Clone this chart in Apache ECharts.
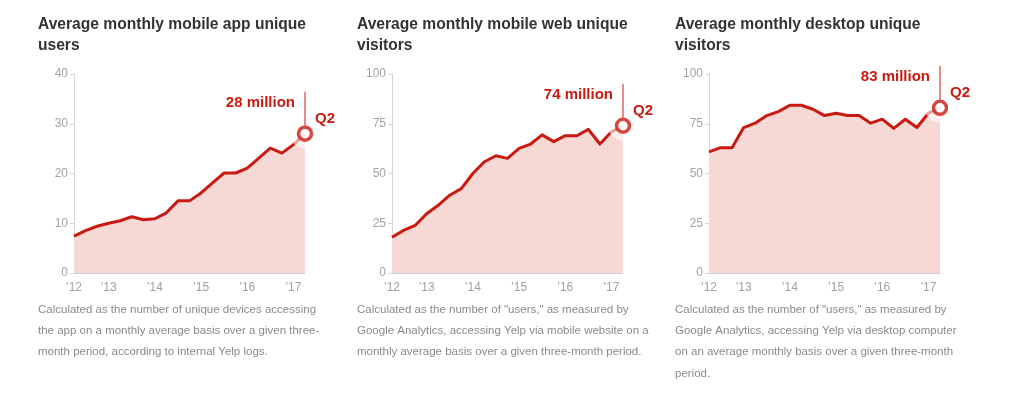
<!DOCTYPE html>
<html><head><meta charset="utf-8">
<script src="https://cdn.jsdelivr.net/npm/echarts@6/dist/echarts.min.js"></script>
<style>html,body{margin:0;padding:0;background:#fff}#c{width:1024px;height:394px}</style>
</head><body><div id="c"></div>
<script>
const categories = ['2012 Q2','2012 Q3','2012 Q4','2013 Q1','2013 Q2','2013 Q3','2013 Q4','2014 Q1','2014 Q2','2014 Q3','2014 Q4','2015 Q1','2015 Q2','2015 Q3','2015 Q4','2016 Q1','2016 Q2','2016 Q3','2016 Q4','2017 Q1','2017 Q2'];
const tickCategories = ['2012 Q2','2013 Q1','2014 Q1','2015 Q1','2016 Q1','2017 Q1'];
const tickLabels = ['\u201912','\u201913','\u201914','\u201915','\u201916','\u201917'];
const appUsers = [7.4, 8.5, 9.4, 10.0, 10.5, 11.3, 10.7, 10.9, 12.1, 14.5, 14.5, 16.1, 18.1, 20.1, 20.1, 21.1, 23.1, 25.1, 24.1, 25.8, 28];
const webVisitors = [18.0, 21.4, 23.9, 29.8, 34.0, 39.1, 42.4, 50.0, 55.9, 58.9, 57.6, 62.6, 64.8, 69.4, 66.0, 69.0, 69.0, 72.2, 64.8, 71.0, 74];
const desktopVisitors = [60.9, 63.0, 63.0, 73.1, 75.3, 79.1, 81.1, 84.3, 84.3, 82.3, 79.1, 80.3, 79.1, 79.1, 75.3, 77.3, 72.7, 77.3, 73.1, 80.3, 83];
const yMax = [40, 100, 100];
const yInterval = [10, 25, 25];
const titles = ['Average monthly mobile app unique\nusers', 'Average monthly mobile web unique\nvisitors', 'Average monthly desktop unique\nvisitors'];
const notes = [
  'Calculated as the number of unique devices accessing\nthe app on a monthly average basis over a given three-\nmonth period, according to internal Yelp logs.',
  'Calculated as the number of "users," as measured by\nGoogle Analytics, accessing Yelp via mobile website on a\nmonthly average basis over a given three-month period.',
  'Calculated as the number of "users," as measured by\nGoogle Analytics, accessing Yelp via desktop computer\non an average monthly basis over a given three-month\nperiod.'
];
const annotations = ['28 million', '74 million', '83 million'];
const quarterLabel = 'Q2';
const seriesData = [appUsers, webVisitors, desktopVisitors];

const RED = '#c91a12';
const FILL = '#f6d8d4';
const gridLefts = [74, 392, 709];
const textLefts = [38, 357, 675];
const FONT = 'Liberation Sans, Arial, sans-serif';

const chart = echarts.init(document.getElementById('c'));
const grids = [], xAxes = [], yAxes = [], series = [], graphics = [];
for (let i = 0; i < 3; i++) {
  grids.push({left: gridLefts[i], top: 74, width: 231, height: 199, containLabel: false});
  xAxes.push({
    type: 'category', gridIndex: i, data: categories, boundaryGap: false,
    axisLine: {lineStyle: {color: '#cfcfcf', width: 1}},
    axisTick: {show: false},
    axisLabel: {
      color: '#a0a0a0', fontSize: 12, fontFamily: FONT, margin: 9,
      interval: (idx, val) => tickCategories.indexOf(val) >= 0,
      formatter: (val) => { const k = tickCategories.indexOf(val); return k >= 0 ? tickLabels[k] : ''; }
    },
    splitLine: {show: false}
  });
  yAxes.push({
    type: 'value', gridIndex: i, min: 0, max: yMax[i], interval: yInterval[i],
    axisLine: {show: true, lineStyle: {color: '#d6d6d6', width: 1}},
    axisTick: {show: true, length: 4, lineStyle: {color: '#d6d6d6'}},
    axisLabel: {color: '#a3a3a3', fontSize: 12, fontFamily: FONT, margin: 6},
    splitLine: {show: false}
  });
  series.push({
    type: 'line', xAxisIndex: i, yAxisIndex: i, data: seriesData[i],
    symbol: 'none', clip: false,
    lineStyle: {color: RED, width: 3, join: 'round'},
    areaStyle: {color: FILL, opacity: 1},
    z: 2
  });
  const last = seriesData[i].length - 1;
  series.push({
    type: 'scatter', xAxisIndex: i, yAxisIndex: i,
    data: [[last, seriesData[i][last]]],
    symbol: 'circle', symbolSize: 30,
    itemStyle: {color: 'rgba(255,255,255,0.72)'},
    silent: true, z: 3
  });
  series.push({
    type: 'scatter', xAxisIndex: i, yAxisIndex: i,
    data: [[last, seriesData[i][last]]],
    symbol: 'circle', symbolSize: 13,
    itemStyle: {color: '#fff', borderColor: RED, borderWidth: 3.5},
    silent: true, z: 5
  });
  graphics.push({
    type: 'text', left: textLefts[i], top: 14,
    style: {text: titles[i], fill: '#333', font: 'bold 15.6px ' + FONT, lineHeight: 21}
  });
  graphics.push({
    type: 'text', left: textLefts[i], top: 299,
    style: {text: notes[i], fill: '#8a8a8a', font: '11.5px ' + FONT, lineHeight: 21.3}
  });
}

chart.setOption({
  animation: false,
  backgroundColor: '#fff',
  grid: grids, xAxis: xAxes, yAxis: yAxes, series: series,
  graphic: graphics
});

const extra = [];
for (let i = 0; i < 3; i++) {
  const last = seriesData[i].length - 1;
  const p = chart.convertToPixel({gridIndex: i}, [last, seriesData[i][last]]);
  extra.push({
    type: 'line', z: 4,
    shape: {x1: p[0], y1: p[1] - 42, x2: p[0], y2: p[1] - 8},
    style: {stroke: RED, lineWidth: 1}
  });
  extra.push({
    type: 'text', z: 6, x: p[0] - 10, y: p[1] - 31,
    style: {text: annotations[i], fill: RED, font: 'bold 15px ' + FONT, align: 'right', verticalAlign: 'middle'}
  });
  extra.push({
    type: 'text', z: 6, x: p[0] + 10, y: p[1] - 15,
    style: {text: quarterLabel, fill: RED, font: 'bold 15px ' + FONT, align: 'left', verticalAlign: 'middle'}
  });
}
chart.setOption({graphic: graphics.concat(extra)});
</script></body></html>
